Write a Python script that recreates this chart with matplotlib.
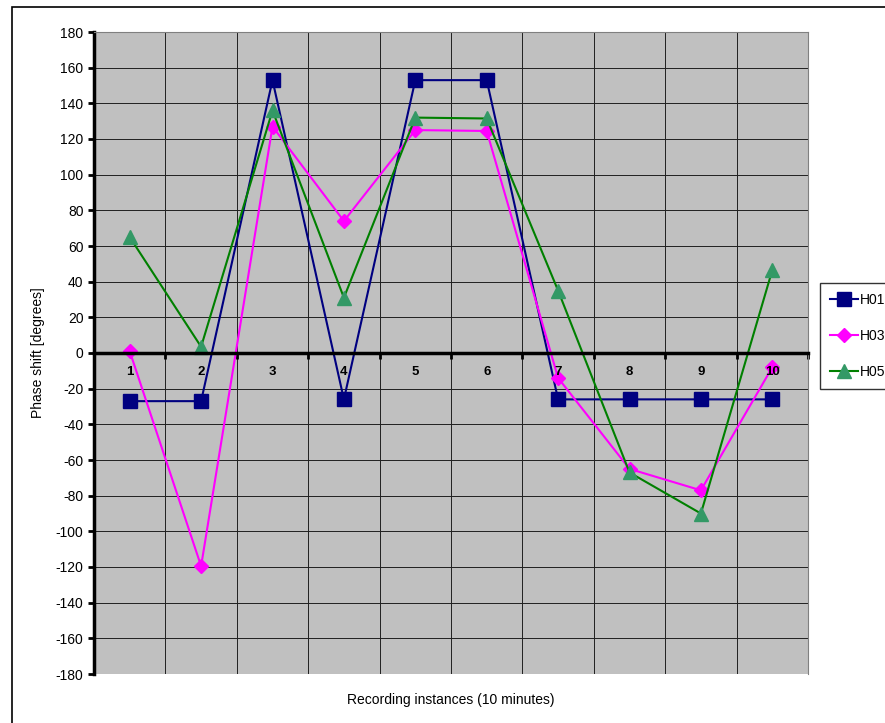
import matplotlib.pyplot as plt
from matplotlib.patches import Rectangle

plt.rcParams["font.family"] = ["Liberation Sans", "DejaVu Sans"]
plt.rcParams["axes.unicode_minus"] = False

# data
instances = [1, 2, 3, 4, 5, 6, 7, 8, 9, 10]
h01 = [-27, -27, 153, -26, 153, 153, -26, -26, -26, -26]
h03 = [1, -119.5, 127, 74, 125, 124.5, -14, -65, -77, -8]
h05 = [65, 3.5, 136, 31, 132, 131.5, 35, -67, -90, 46.5]
y_ticks = list(range(-180, 181, 20))

fig = plt.figure(figsize=(8.85, 7.23), dpi=100)
ax = fig.add_axes([94 / 885, 49 / 723, 714 / 885, 642 / 723])
ax.set_facecolor("#C0C0C0")

ax.plot(instances, h01, color="#000080", lw=1.5, marker="s", ms=9.5,
        mfc="#000080", mec="#000080", label="H01")
ax.plot(instances, h03, color="#FF00FF", lw=1.5, marker="D", ms=7,
        mfc="#FF00FF", mec="#FF00FF", label="H03")
ax.plot(instances, h05, color="#008000", lw=1.5, marker="^", ms=9.5,
        mfc="#339966", mec="#339966", label="H05")

ax.set_xlim(0.5, 10.5)
ax.set_ylim(-180, 180)
ax.set_yticks(y_ticks)
ax.set_xticks(instances)
ax.set_xticks([i + 0.5 for i in range(0, 11)], minor=True)

# zero line acts as the category axis
ax.spines["bottom"].set_position(("data", 0))
ax.spines["bottom"].set_linewidth(2.5)
ax.spines["left"].set_linewidth(2.5)
ax.spines["top"].set_color("#808080")
ax.spines["right"].set_color("#808080")
ax.tick_params(axis="x", which="major", length=0, labelbottom=False)
ax.tick_params(axis="x", which="minor", length=4, width=2, direction="out")
ax.tick_params(axis="y", length=4, width=2, direction="out", labelsize=10)

# category labels on top of the lines, like Excel
for x in instances:
    ax.annotate(str(x), (x, 0), xytext=(0, -14), textcoords="offset points",
                ha="center", va="center", fontsize=9.5, fontweight="bold",
                zorder=6)

ax.grid(True, which="minor", axis="x", color="#202020", lw=0.7)
ax.grid(True, which="major", axis="y", color="#202020", lw=0.7)
ax.set_axisbelow(True)

fig.text(451 / 885, 1 - 700 / 723, "Recording instances (10 minutes)",
         ha="center", va="center", fontsize=10)
fig.text(38 / 885, 1 - 353 / 723, "Phase shift [degrees]", rotation=90,
         ha="center", va="center", fontsize=10)

leg = fig.legend(loc="upper left", bbox_to_anchor=(820 / 885, 1 - 283 / 723),
                 fontsize=10, fancybox=False, edgecolor="black",
                 handlelength=2.0, labelspacing=1.6, borderpad=0.7,
                 borderaxespad=0, handletextpad=0.15)
leg.get_frame().set_linewidth(1.0)

fig.patches.append(Rectangle((12 / 885, -0.1), 2, 1 + 0.1 - 7 / 723,
                             transform=fig.transFigure, fill=False,
                             edgecolor="black", lw=1.2))

plt.savefig("out.png", dpi=100)
